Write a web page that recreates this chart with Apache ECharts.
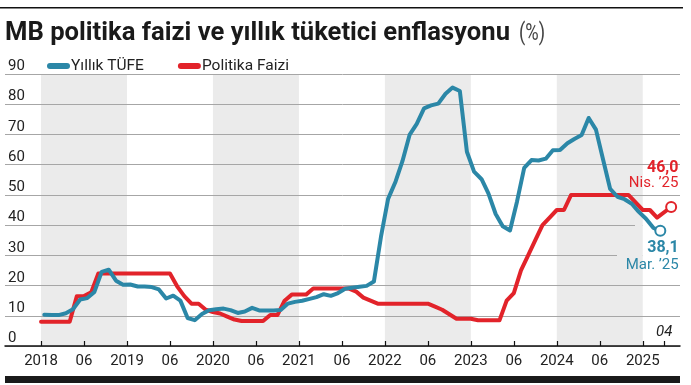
<!DOCTYPE html>
<html><head><meta charset="utf-8">
<script src="https://cdn.jsdelivr.net/npm/echarts@6/dist/echarts.min.js"></script>
<style>html,body{margin:0;padding:0;background:#fff}#c{width:691px;height:385px}</style>
</head><body><div id="c"></div>
<script>
// ---------- DATA ----------
const titleText = 'MB politika faizi ve yıllık tüketici enflasyonu';
const titleUnit = '(%)';
const seriesNames = ['Yıllık TÜFE', 'Politika Faizi'];
const firstYear = 2018;

// Months Jan 2018 .. Apr 2025
const months = [];
for (let y = 2018; y <= 2025; y++) for (let m = 1; m <= 12; m++) {
  if (y === 2025 && m > 4) break;
  months.push(y + '-' + String(m).padStart(2, '0'));
}

// Yıllık TÜFE (annual CPI, %), Jan 2018 .. Mar 2025
const cpiValues = [
  10.35,10.26,10.23,10.85,12.15,15.39,15.85,17.90,24.52,25.24,21.62,20.30,
  20.35,19.67,19.71,19.50,18.71,15.72,16.65,15.01,9.26,8.55,10.56,11.84,
  12.15,12.37,11.86,10.94,11.39,12.62,11.76,11.77,11.75,11.89,14.03,14.60,
  14.97,15.61,16.19,17.14,16.59,17.53,18.95,19.25,19.58,19.89,21.31,36.08,
  48.69,54.44,61.14,69.97,73.50,78.62,79.60,80.21,83.45,85.51,84.39,64.27,
  57.68,55.18,50.51,43.68,39.59,38.21,47.83,58.94,61.53,61.36,61.98,64.77,
  64.86,67.07,68.50,69.80,75.45,71.60,61.78,51.97,49.38,48.58,47.09,44.38,
  42.12,39.05,38.10
];
// Politika faizi (policy rate, %), Jan 2018 .. Apr 2025
const rateValues = [
  8,8,8,8,8,16.5,16.5,17.75,24,24,24,24,
  24,24,24,24,24,24,24,19.75,16.5,14,14,12,
  11.25,10.75,9.75,8.75,8.25,8.25,8.25,8.25,10.25,10.25,15,17,
  17,17,19,19,19,19,19,19,18,16,15,14,
  14,14,14,14,14,14,14,13,12,10.5,9,9,
  9,8.5,8.5,8.5,8.5,15,17.5,25,30,35,40,42.5,
  45,45,50,50,50,50,50,50,50,50,50,47.5,
  45,45,42.5,46
];
const cpiDay = 15;            // CPI readings sit mid-month
const rateDay = 1;            // rate readings sit at month start
const rateLastDate = '2025-04-30';
const cpiNote = 'Mar. ’25';
const rateNote = 'Nis. ’25';

// Ticks
const xTickValues = [0,6,12,18,24,30,36,42,48,54,60,66,72,78,84];
const xTickLabels = ['2018','06','2019','06','2020','06','2021','06','2022','06','2023','06','2024','06','2025'];
const extraTickValue = 87; const extraTickLabel = '04';
const bandRanges = [[0,12],[24,36],[48,60],[72,84]];

// ---------- helpers ----------
function datePos(s) {
  const [y, m, d] = s.split('-').map(Number);
  const dim = new Date(y, m, 0).getDate();
  return (y - firstYear) * 12 + (m - 1) + (d - 1) / (dim);
}
const pad = n => String(n).padStart(2, '0');
const BLUE = '#2b87a7', RED = '#e2232a';
const fmt = v => v.toFixed(1).replace('.', ',');

const cpiData = cpiValues.map((v, i) => {
  const item = { value: [datePos(months[i] + '-' + pad(cpiDay)), v] };
  if (i === cpiValues.length - 1) {
    item.symbol = 'emptyCircle'; item.symbolSize = 10;
    item.label = {
      show: true, position: [24.4, 15], align: 'right', verticalAlign: 'top',
      formatter: '{v|' + fmt(v) + '}\n{d|' + cpiNote + '}',
      rich: {
        v: { fontFamily: 'Roboto', fontWeight: 'bold', fontSize: 16, lineHeight: 17, color: BLUE, align: 'right' },
        d: { fontFamily: 'Roboto', fontSize: 15, lineHeight: 17, color: BLUE, align: 'right' }
      }
    };
  }
  return item;
});
const rateData = rateValues.map((v, i) => {
  const last = i === rateValues.length - 1;
  const item = { value: [datePos(last ? rateLastDate : months[i] + '-' + pad(rateDay)), v] };
  if (last) {
    item.symbol = 'emptyCircle'; item.symbolSize = 10;
    item.label = {
      show: true, position: [13.3, -10.5], align: 'right', verticalAlign: 'bottom',
      formatter: '{v|' + fmt(v) + '}\n{d|' + rateNote + '}',
      rich: {
        v: { fontFamily: 'Roboto', fontWeight: 'bold', fontSize: 16, lineHeight: 15, color: RED, align: 'right' },
        d: { fontFamily: 'Roboto', fontSize: 15, lineHeight: 15, color: RED, align: 'right' }
      }
    };
  }
  return item;
});

// ---------- chart ----------
const chart = echarts.init(document.getElementById('c'), null, { renderer: 'canvas' });

const ctx = document.createElement('canvas').getContext('2d');
ctx.font = 'bold 25px Roboto';
const titleW = ctx.measureText(titleText).width;
const titleScale = 505 / titleW;
ctx.font = '23px Roboto';
const unitW = ctx.measureText(titleUnit).width;
const unitScale = 26 / unitW;

const pillIcon = 'path://M3,0H20A3,3,0,0,1,20,6H3A3,3,0,0,1,3,0Z';

const option = {
  animation: false,
  backgroundColor: '#fff',
  grid: { left: 5, right: 11, top: 74, bottom: 39, containLabel: false },
  legend: {
    data: seriesNames, left: 42, top: 53, itemWidth: 23, itemHeight: 6, itemGap: 34,
    icon: pillIcon, selectedMode: false,
    textStyle: { fontFamily: 'Roboto', fontSize: 15.5, color: '#222', padding: [0, 0, 0, -4] }
  },
  xAxis: {
    type: 'value', min: -5.03, max: 89.2,
    axisLine: { show: true, onZero: false, lineStyle: { color: '#111', width: 1.5 } },
    axisTick: { show: true, inside: true, length: 5, customValues: xTickValues.concat([extraTickValue]), lineStyle: { color: '#111', width: 1.2 } },
    axisLabel: {
      customValues: xTickValues, margin: 8, fontSize: 15, fontFamily: 'Roboto', color: '#222',
      formatter: v => { const k = xTickValues.indexOf(Math.round(v)); return k >= 0 ? xTickLabels[k] : ''; }
    },
    splitLine: { show: false }
  },
  yAxis: {
    type: 'value', min: 0, max: 90, interval: 10,
    axisLine: { show: false }, axisTick: { show: false },
    axisLabel: { inside: true, margin: 3, verticalAlign: 'bottom', fontSize: 15, fontFamily: 'Roboto', color: '#222' },
    splitLine: { lineStyle: { color: '#a6a6a6', width: 1 } }
  },
  series: [
    {
      name: seriesNames[1], type: 'line', data: rateData, z: 3,
      showSymbol: true, showAllSymbol: true, symbol: 'none',
      itemStyle: { color: RED, borderWidth: 2.5 },
      lineStyle: { color: RED, width: 4, join: 'round', cap: 'round' },
      emphasis: { disabled: true }
    },
    {
      name: seriesNames[0], type: 'line', data: cpiData, z: 4,
      showSymbol: true, showAllSymbol: true, symbol: 'none',
      itemStyle: { color: BLUE, borderWidth: 2.5 },
      lineStyle: { color: BLUE, width: 4, join: 'round', cap: 'round' },
      emphasis: { disabled: true },
      markArea: {
        silent: true, z: -1,
        itemStyle: { color: '#ebebeb' },
        data: bandRanges.map(r => [{ xAxis: r[0] }, { xAxis: r[1] }])
      }
    }
  ]
};
chart.setOption(option);

// pixel helpers derived from the axes (layout only)
const px = v => chart.convertToPixel({ xAxisIndex: 0 }, v);
const py = v => chart.convertToPixel({ yAxisIndex: 0 }, v);
const bandEnd = px(84), rightEdge = px(89.2);
const p04 = [px(extraTickValue), py(0)];
// gaps in gridlines behind the CPI annotation
const gaps = [[40, 635], [30, 617]];
const gapRects = [];
gaps.forEach(([gv, gx]) => {
  const gy = py(gv);
  gapRects.push({ type: 'rect', z: 1, shape: { x: gx, y: gy - 1.5, width: bandEnd - gx, height: 3 }, style: { fill: '#ebebeb' } });
  gapRects.push({ type: 'rect', z: 1, shape: { x: bandEnd, y: gy - 1.5, width: rightEdge - bandEnd + 1, height: 3 }, style: { fill: '#fff' } });
});

chart.setOption({
  graphic: gapRects.concat([
    { type: 'rect', shape: { x: 0, y: 7, width: 683, height: 1.5 }, style: { fill: '#111' } },
    { type: 'text', x: 5, y: 34, scaleX: titleScale, style: { text: titleText, font: 'bold 25px Roboto', fill: '#1a1a1a', verticalAlign: 'middle' } },
    { type: 'text', x: 5 + titleW * titleScale + 9, y: 34, scaleX: unitScale, style: { text: titleUnit, font: '23px Roboto', fill: '#444', verticalAlign: 'middle' } },
    { type: 'text', x: p04[0], y: p04[1] - 14, style: { text: extraTickLabel, font: 'italic 15px Roboto', fill: '#222', align: 'center', verticalAlign: 'middle' } },
    { type: 'rect', shape: { x: 5, y: 376, width: 675, height: 7 }, style: { fill: '#1a1a1a' } }
  ])
});
</script></body></html>
